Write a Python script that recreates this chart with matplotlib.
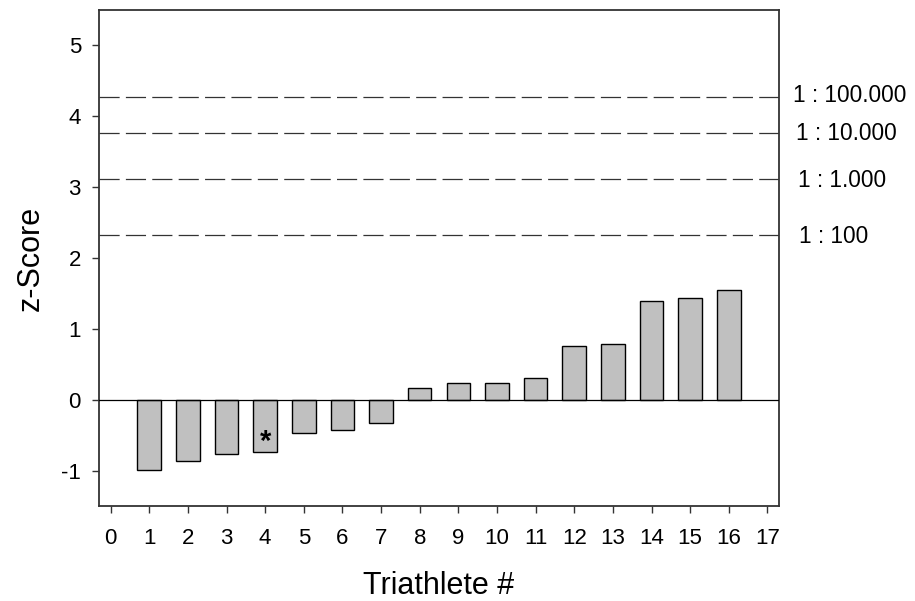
import matplotlib
matplotlib.use("Agg")
import matplotlib.pyplot as plt
import matplotlib.transforms as mtransforms

plt.rcParams['font.family'] = ['Liberation Sans', 'DejaVu Sans']
plt.rcParams['lines.scale_dashes'] = False
plt.rcParams['axes.unicode_minus'] = False

# z-scores per triathlete
athletes = list(range(1, 17))
z_scores = [-0.99, -0.87, -0.76, -0.74, -0.47, -0.43, -0.33, 0.17,
            0.23, 0.24, 0.31, 0.76, 0.78, 1.39, 1.43, 1.55]
marked_athlete = 4

# probability threshold lines
threshold_z = [2.33, 3.12, 3.77, 4.27]
threshold_labels = ["1 : 100", "1 : 1.000", "1 : 10.000", "1 : 100.000"]
threshold_label_dx = [14.2, 13.7, 12.0, 10.0]
threshold_label_dy = [-0.02, -0.03, -0.02, 0.025]

x_ticks = list(range(0, 18))
y_ticks = list(range(-1, 6))

fig = plt.figure(figsize=(9.15, 6.01), dpi=100)
ax = fig.add_axes([0.1082, 0.158, 0.7432, 0.8254])

ax.bar(athletes, z_scores, width=0.61, color='#c0c0c0',
       edgecolor='black', linewidth=1.0, zorder=3)
ax.axhline(0, color='black', linewidth=0.9, zorder=4)

trans = mtransforms.blended_transform_factory(ax.transAxes, ax.transData)
for z, lab, dx, dy in zip(threshold_z, threshold_labels,
                          threshold_label_dx, threshold_label_dy):
    ax.axhline(z, color='#333333', linewidth=0.9, linestyle=(0, (14.5, 4.5)),
               zorder=2)
    ax.annotate(lab, xy=(1.0, z + dy), xycoords=trans,
                xytext=(dx, 0), textcoords='offset points',
                ha='left', va='center', fontsize=16.3, annotation_clip=False)

mi = athletes.index(marked_athlete)
ax.text(marked_athlete, z_scores[mi] + 0.14, '*', ha='center', va='center',
        fontsize=21, fontweight='bold', zorder=5)

ax.set_xlim(-0.3, 17.3)
ax.set_ylim(-1.5, 5.5)
ax.set_xticks(x_ticks)
ax.set_yticks(y_ticks)
ax.tick_params(axis='both', direction='out', length=5, width=1.0,
               labelsize=16, color='#333333')
ax.tick_params(axis='x', pad=11, top=False)
ax.tick_params(axis='y', pad=8, right=False)
for s in ax.spines.values():
    s.set_linewidth(1.3)
    s.set_color('#333333')

ax.set_xlabel('Triathlete #', fontsize=22, labelpad=16)
ax.set_ylabel('z-Score', fontsize=22, labelpad=11)

fig.savefig('out.png', dpi=100)
